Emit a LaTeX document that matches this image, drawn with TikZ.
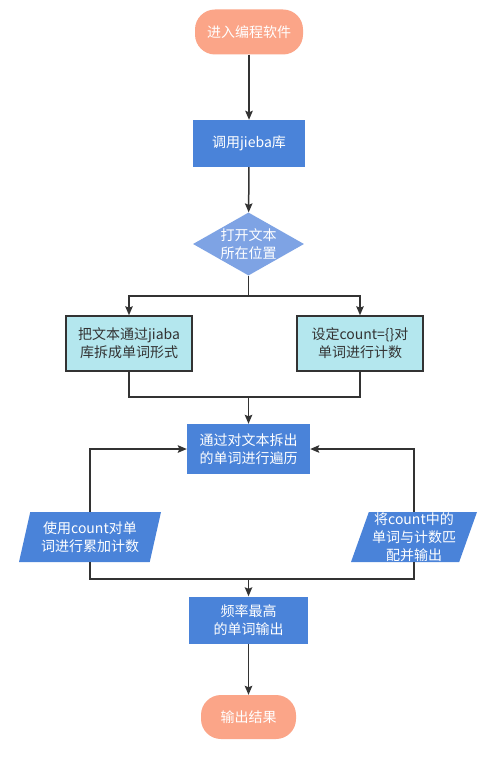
\documentclass[tikz,border=0pt]{standalone}
\usepackage{fontspec}
\setmainfont{Noto Sans CJK SC}
\usetikzlibrary{shapes.geometric,arrows.meta}
\definecolor{salmon}{HTML}{FBA588}
\definecolor{bluebox}{HTML}{4A83D9}
\definecolor{bluedia}{HTML}{7EA3E4}
\definecolor{cyanbox}{HTML}{B4E7EE}
\definecolor{linecol}{HTML}{333333}
\tikzset{
  base/.style={inner sep=0pt, align=center, font=\fontsize{14}{18}\selectfont},
  term/.style={base, fill=salmon, rounded corners=20pt, text=white},
  procbox/.style={base, fill=bluebox, text=white},
  cyanproc/.style={base, fill=cyanbox, draw=linecol, line width=1.5pt, text=linecol},
  diabox/.style={diamond, fill=bluedia, inner sep=0pt, minimum width=111pt, minimum height=63pt},
  iobox/.style={base, trapezium, trapezium left angle=70, trapezium right angle=110, trapezium stretches body, fill=bluebox, text=white},
  conn/.style={draw=linecol, line width=1.5pt},
  arr/.style={conn, -{Stealth[length=9pt,width=7.5pt,inset=1.5pt]}},
}
\begin{document}
\begin{tikzpicture}[x=1pt,y=-1pt]
\useasboundingbox[fill=white] (0,0) rectangle (500,759);
\node[term, minimum width=108pt, minimum height=45pt] (start) at (249,32) {进入编程软件};
\node[procbox, minimum width=112pt, minimum height=47pt] (jieba) at (249,143.5) {调用jieba库};
\node[diabox] (dia) at (248.5,244) {};
\node[base, text=white] (diatext) at (dia.center) {打开文本\\所在位置};
\node[cyanproc, minimum width=126pt, minimum height=55pt] (L) at (129,343.5) {把文本通过jiaba\\库拆成单词形式};
\node[cyanproc, minimum width=126pt, minimum height=55pt] (R) at (360,343.5) {设定count=\{\}对\\单词进行计数};
\node[procbox, minimum width=123pt, minimum height=50pt] (M) at (248.5,449) {通过对文本拆出\\的单词进行遍历};
\node[iobox, minimum width=142pt, minimum height=50pt] (P1) at (90,537) {使用count对单\\词进行累加计数};
\node[iobox, minimum width=126pt, minimum height=50pt] (P2) at (414,537) {将count中的\\单词与计数匹\\配并输出};
\node[procbox, minimum width=119pt, minimum height=47pt] (O) at (248.5,620) {频率最高\\的单词输出};
\node[term, minimum width=95pt, minimum height=44pt] (E) at (248.5,717) {输出结果};
\coordinate (j1) at (248.5,296);
\coordinate (j2) at (248.5,397);
\coordinate (j3) at (248.5,579);
\draw[arr] (start) -- (jieba);
\draw[arr] (jieba) -- (dia);
\draw[conn] (dia.south) -- (j1);
\draw[arr] (j1) -| (L.north);
\draw[arr] (j1) -| (R.north);
\draw[conn] (L.south) |- (j2);
\draw[conn] (R.south) |- (j2);
\draw[arr] (j2) -- (M);
\draw[arr] (P1.north) |- (M.west);
\draw[arr] (P2.north) |- (M.east);
\draw[conn] (P1.south) |- (j3);
\draw[conn] (P2.south) |- (j3);
\draw[arr] (j3) -- (O);
\draw[arr] (O) -- (E);
\end{tikzpicture}
\end{document}
